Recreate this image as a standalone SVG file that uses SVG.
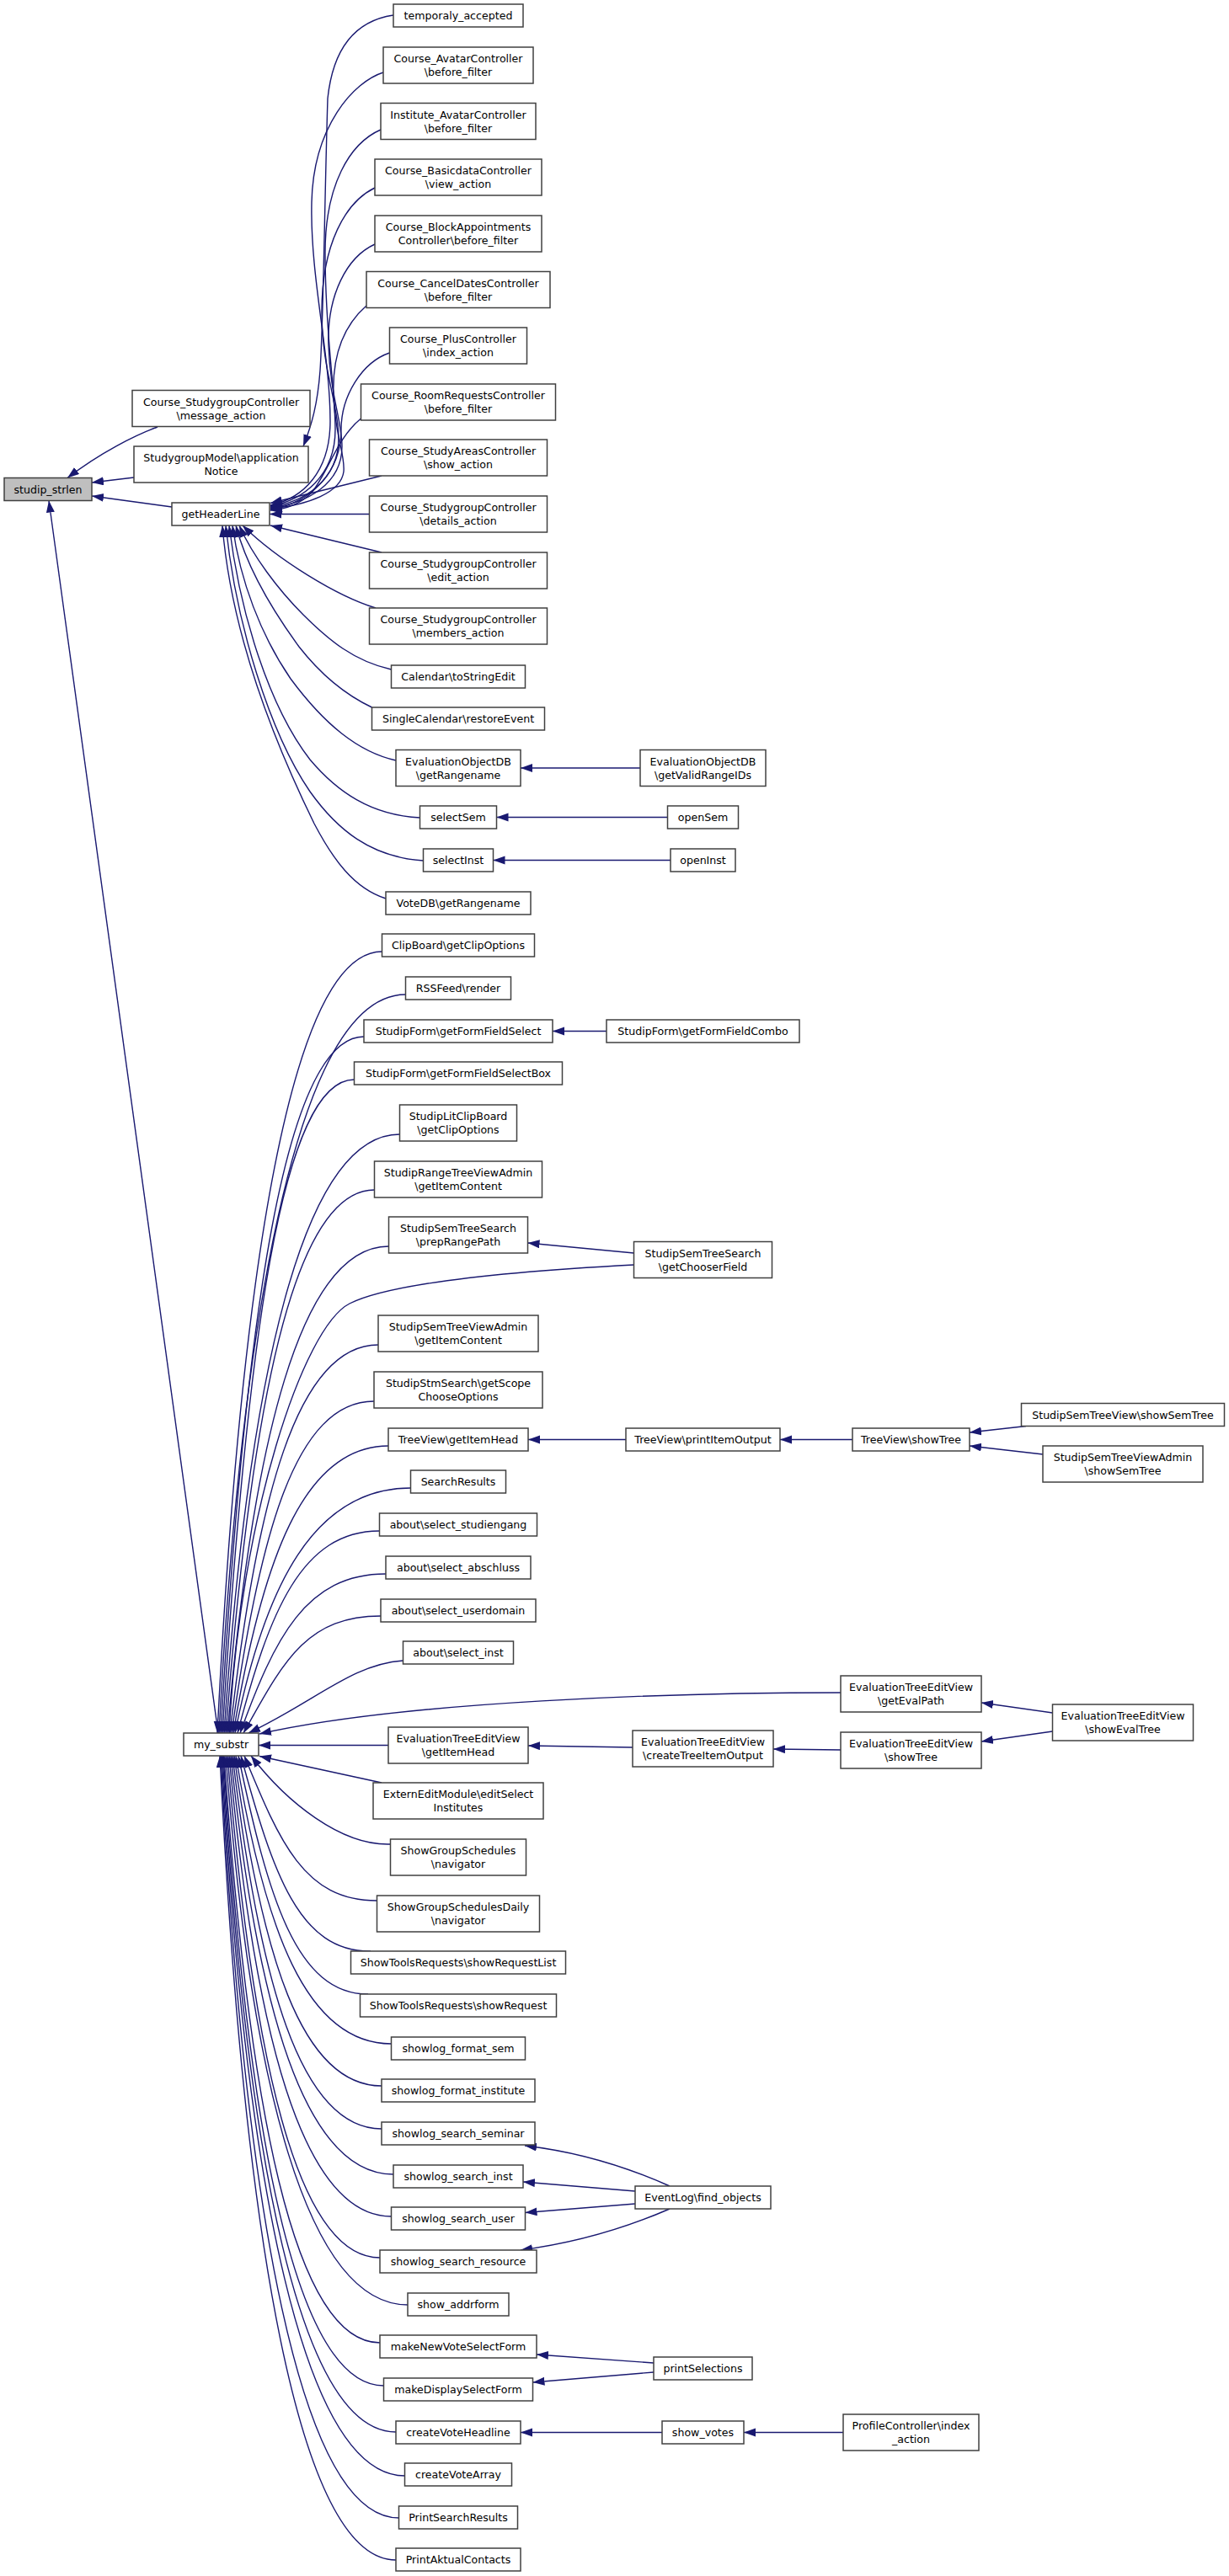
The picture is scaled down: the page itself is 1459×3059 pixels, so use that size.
<svg xmlns="http://www.w3.org/2000/svg" width="1459" height="3059" viewBox="0 0 1459 3059">
<style>
.n rect{fill:#fff;stroke:#404040;stroke-width:1.5}
.root rect{fill:#bfbfbf}
text{font-family:"DejaVu Sans","Liberation Sans",sans-serif;font-size:12.6px;text-anchor:middle;fill:#000}
.e path{fill:none;stroke:#191970;stroke-width:1.4;marker-end:url(#a)}
</style>
<defs>
<marker id="a" markerUnits="userSpaceOnUse" markerWidth="16" markerHeight="12" refX="14" refY="5" orient="auto"><path d="M0,0 L14,5 L0,10 z" fill="#191970"/></marker>
</defs>
<rect width="1459" height="3059" fill="#fff"/>
<g id="edges" class="e">
<path d="M187,507 C160,517 120,537 80,567.5"/>
<path d="M159,567 L109,573"/>
<path d="M204,602 L109,589"/>
<path d="M259,2058 L58,594.5"/>
<path d="M467,18 C420,25 395,60 389,117 C385,250 384,380 380,440 C377,480 370,505 360,530"/>
<path d="M455,86 C420,97 372,150 370,240 C368,330 392,420 392,500 C392,560 360,592 321,600"/>
<path d="M452,154 C415,170 386,220 386,300 C386,400 398,460 398,510 C398,565 360,594 321,601"/>
<path d="M445,223 C410,240 382,290 382,370 C382,440 402,480 402,520 C402,570 362,596 321,602"/>
<path d="M445,290 C412,305 388,350 390,410 C392,470 406,500 406,530 C406,575 364,598 321,603"/>
<path d="M435,363 C410,385 394,420 396,470 C398,520 410,540 408,560 C405,585 365,600 321,604"/>
<path d="M462.5,419 C430,430 405,470 405,510 C405,560 370,597 321,605"/>
<path d="M428.5,497 C400,520 390,560 370,585 C355,600 335,605 321,606"/>
<path d="M453,565 L321,597.5"/>
<path d="M438.5,610.5 L320,610.5"/>
<path d="M453,656 L321,624"/>
<path d="M446,722 C400,708 330,665 288,624"/>
<path d="M464.5,795 C420,785 390,760 360,730 C330,700 300,660 284,624"/>
<path d="M441.5,840 C410,825 380,800 355,768 C320,720 292,670 280,624"/>
<path d="M470,903 C425,893 385,860 345,806 C310,755 285,690 276,624"/>
<path d="M498.5,971 C440,968 400,940 368,902 C320,840 285,730 272,624"/>
<path d="M502.5,1022 C440,1018 400,985 368,940 C320,870 280,740 268,624"/>
<path d="M458,1067 C420,1055 395,1020 373,978 C330,890 275,760 264,624"/>
<path d="M760,912 L618,912"/>
<path d="M792.5,970.5 L589.5,970.5"/>
<path d="M796,1021.5 L585.5,1021.5"/>
<path d="M453.5,1130 C346.5,1130 286,1501 258,2058"/>
<path d="M481.5,1181 C359,1181 288,1532 260,2058"/>
<path d="M432,1231 C338,1231 291,1562 262,2058"/>
<path d="M420.5,1282 C334.5,1282 293,1592 264,2058"/>
<path d="M474.5,1347 C360,1347 295,1631 266,2058"/>
<path d="M444.5,1413 C347.5,1413 298,1671 268,2058"/>
<path d="M461.5,1480 C356.5,1480 300,1711 270,2058"/>
<path d="M752.5,1502 C640,1508 470,1520 415,1548 C360,1576 285,1800 272,2058"/>
<path d="M449,1597 C352,1597 304.5,1781 273,2058"/>
<path d="M444,1664 C350.6,1664 307.6,1822 275,2058"/>
<path d="M461,1717 C360,1717 310.8,1853 277,2058"/>
<path d="M487.5,1767 C372.5,1767 314,1883 279,2058"/>
<path d="M450.5,1818 C357.7,1818 319.5,1914 282,2058"/>
<path d="M458,1869 C363,1869 326,1945 285,2058"/>
<path d="M452,1919 C362.6,1919 335.6,1975 289,2058"/>
<path d="M478.5,1972 C418,1976 375,2020 295,2058"/>
<path d="M998,2010 C800,2010 480,2020 308,2059"/>
<path d="M461,2072.5 L307,2072.5"/>
<path d="M453,2117 L308,2085.5"/>
<path d="M463.5,2190 C405,2192 340,2140 298,2085"/>
<path d="M447.5,2257 C361,2257 332.4,2188 290,2085"/>
<path d="M440,2317 C355,2318 324,2225 286,2085"/>
<path d="M437,2368 C352,2368 318.6,2255 283,2085"/>
<path d="M464.5,2427 C363,2427 313.8,2290 280,2085"/>
<path d="M453,2477 C356.6,2477 310.7,2320 278,2085"/>
<path d="M453,2528 C355.6,2528 307.8,2351 276,2085"/>
<path d="M467,2582 C361,2582 305,2383 274,2085"/>
<path d="M464.5,2632 C358,2632 302.5,2413 272,2085"/>
<path d="M451,2681 C351.7,2681 300,2443 270,2085"/>
<path d="M484,2737 C364.7,2737 297.6,2476 268,2085"/>
<path d="M451,2782 C348.7,2782 295.3,2503 266,2085"/>
<path d="M455.5,2833 C350.5,2833 294,2534 265,2085"/>
<path d="M470,2888 C356.6,2888 292.7,2566 264,2085"/>
<path d="M480.5,2940 C361,2940 291.5,2598 263,2085"/>
<path d="M473.5,2990 C357,2990 290.3,2628 262,2085"/>
<path d="M470,3040 C354.6,3040 289,2658 261,2085"/>
<path d="M720,1224.5 L656,1224.5"/>
<path d="M752.5,1488 L626.5,1476"/>
<path d="M743,1709.5 L627,1709.5"/>
<path d="M1012,1709.5 L926,1709.5"/>
<path d="M1218,1693.5 L1151,1701"/>
<path d="M1238,1727 L1151,1717"/>
<path d="M751,2075 L627,2073"/>
<path d="M998,2078 L918,2077"/>
<path d="M1249.5,2034 L1165,2022"/>
<path d="M1249.5,2056 L1165,2068"/>
<path d="M795,2596 Q710,2558 623,2548"/>
<path d="M754,2602 L621,2591"/>
<path d="M754,2617 L623.5,2627.5"/>
<path d="M795,2623 Q710,2660 618,2672"/>
<path d="M776,2806 L637,2796"/>
<path d="M776,2817 L632.5,2829"/>
<path d="M786,2888.5 L618,2888.5"/>
<path d="M1001,2888.5 L883,2888.5"/>
</g>
<g id="studip_strlen" class="n root"><rect x="5" y="567.5" width="104" height="27"/><text x="57" y="585.5">studip_strlen</text></g>
<g id="message_action" class="n"><rect x="157" y="463.5" width="211" height="43"/><text x="262.5" y="481.5">Course_StudygroupController</text><text x="262.5" y="497.5">\message_action</text></g>
<g id="applicationNotice" class="n"><rect x="159" y="530" width="207" height="43"/><text x="262.5" y="548">StudygroupModel\application</text><text x="262.5" y="564">Notice</text></g>
<g id="getHeaderLine" class="n"><rect x="204" y="597" width="116" height="27"/><text x="262" y="615">getHeaderLine</text></g>
<g id="my_substr" class="n"><rect x="218" y="2058" width="89" height="27"/><text x="262.5" y="2076">my_substr</text></g>
<g id="temporaly_accepted" class="n"><rect x="467" y="5" width="154" height="27"/><text x="544" y="23">temporaly_accepted</text></g>
<g id="avatar_before" class="n"><rect x="455" y="56" width="178" height="43"/><text x="544" y="74">Course_AvatarController</text><text x="544" y="90">\before_filter</text></g>
<g id="inst_avatar_before" class="n"><rect x="452" y="122.5" width="184" height="43"/><text x="544" y="140.5">Institute_AvatarController</text><text x="544" y="156.5">\before_filter</text></g>
<g id="basicdata_view" class="n"><rect x="445" y="189" width="198" height="43"/><text x="544" y="207">Course_BasicdataController</text><text x="544" y="223">\view_action</text></g>
<g id="blockappt_before" class="n"><rect x="445" y="256" width="198" height="43"/><text x="544" y="274">Course_BlockAppointments</text><text x="544" y="290">Controller\before_filter</text></g>
<g id="canceldates_before" class="n"><rect x="435" y="322.5" width="218" height="43"/><text x="544" y="340.5">Course_CancelDatesController</text><text x="544" y="356.5">\before_filter</text></g>
<g id="plus_index" class="n"><rect x="462.5" y="389" width="163" height="43"/><text x="544" y="407">Course_PlusController</text><text x="544" y="423">\index_action</text></g>
<g id="roomrequests_before" class="n"><rect x="428.5" y="456" width="231" height="43"/><text x="544" y="474">Course_RoomRequestsController</text><text x="544" y="490">\before_filter</text></g>
<g id="studyareas_show" class="n"><rect x="438.5" y="522" width="211" height="43"/><text x="544" y="540">Course_StudyAreasController</text><text x="544" y="556">\show_action</text></g>
<g id="studygroup_details" class="n"><rect x="438.5" y="589" width="211" height="43"/><text x="544" y="607">Course_StudygroupController</text><text x="544" y="623">\details_action</text></g>
<g id="studygroup_edit" class="n"><rect x="438.5" y="656" width="211" height="43"/><text x="544" y="674">Course_StudygroupController</text><text x="544" y="690">\edit_action</text></g>
<g id="studygroup_members" class="n"><rect x="438.5" y="722" width="211" height="43"/><text x="544" y="740">Course_StudygroupController</text><text x="544" y="756">\members_action</text></g>
<g id="calendar_tostringedit" class="n"><rect x="464.5" y="790" width="159" height="27"/><text x="544" y="808">Calendar\toStringEdit</text></g>
<g id="singlecalendar_restore" class="n"><rect x="441.5" y="840" width="205" height="27"/><text x="544" y="858">SingleCalendar\restoreEvent</text></g>
<g id="evalobjdb_getrangename" class="n"><rect x="470" y="890.5" width="148" height="43"/><text x="544" y="908.5">EvaluationObjectDB</text><text x="544" y="924.5">\getRangename</text></g>
<g id="selectSem" class="n"><rect x="498.5" y="957" width="91" height="27"/><text x="544" y="975">selectSem</text></g>
<g id="selectInst" class="n"><rect x="502.5" y="1008" width="83" height="27"/><text x="544" y="1026">selectInst</text></g>
<g id="votedb_getrangename" class="n"><rect x="458" y="1059" width="172" height="27"/><text x="544" y="1077">VoteDB\getRangename</text></g>
<g id="getValidRangeIDs" class="n"><rect x="760" y="890.5" width="149" height="43"/><text x="834.5" y="908.5">EvaluationObjectDB</text><text x="834.5" y="924.5">\getValidRangeIDs</text></g>
<g id="openSem" class="n"><rect x="792.5" y="957" width="84" height="27"/><text x="834.5" y="975">openSem</text></g>
<g id="openInst" class="n"><rect x="796" y="1008" width="77" height="27"/><text x="834.5" y="1026">openInst</text></g>
<g id="clipboard_getclipoptions" class="n"><rect x="453.5" y="1109" width="181" height="27"/><text x="544" y="1127">ClipBoard\getClipOptions</text></g>
<g id="rssfeed_render" class="n"><rect x="481.5" y="1160" width="125" height="27"/><text x="544" y="1178">RSSFeed\render</text></g>
<g id="getFormFieldSelect" class="n"><rect x="432" y="1211" width="224" height="27"/><text x="544" y="1229">StudipForm\getFormFieldSelect</text></g>
<g id="getFormFieldCombo" class="n"><rect x="720" y="1211" width="229" height="27"/><text x="834.5" y="1229">StudipForm\getFormFieldCombo</text></g>
<g id="getFormFieldSelectBox" class="n"><rect x="420.5" y="1261" width="247" height="27"/><text x="544" y="1279">StudipForm\getFormFieldSelectBox</text></g>
<g id="litclipboard_getclipoptions" class="n"><rect x="474.5" y="1312" width="139" height="43"/><text x="544" y="1330">StudipLitClipBoard</text><text x="544" y="1346">\getClipOptions</text></g>
<g id="rangetreeviewadmin_getitemcontent" class="n"><rect x="444.5" y="1379" width="199" height="43"/><text x="544" y="1397">StudipRangeTreeViewAdmin</text><text x="544" y="1413">\getItemContent</text></g>
<g id="prepRangePath" class="n"><rect x="461.5" y="1445" width="165" height="43"/><text x="544" y="1463">StudipSemTreeSearch</text><text x="544" y="1479">\prepRangePath</text></g>
<g id="getChooserField" class="n"><rect x="752.5" y="1474.5" width="164" height="43"/><text x="834.5" y="1492.5">StudipSemTreeSearch</text><text x="834.5" y="1508.5">\getChooserField</text></g>
<g id="semtreeviewadmin_getitemcontent" class="n"><rect x="449" y="1562" width="190" height="43"/><text x="544" y="1580">StudipSemTreeViewAdmin</text><text x="544" y="1596">\getItemContent</text></g>
<g id="stmsearch_getscope" class="n"><rect x="444" y="1629" width="200" height="43"/><text x="544" y="1647">StudipStmSearch\getScope</text><text x="544" y="1663">ChooseOptions</text></g>
<g id="treeview_getitemhead" class="n"><rect x="461" y="1696" width="166" height="27"/><text x="544" y="1714">TreeView\getItemHead</text></g>
<g id="treeview_printitemoutput" class="n"><rect x="743" y="1696" width="183" height="27"/><text x="834.5" y="1714">TreeView\printItemOutput</text></g>
<g id="treeview_showtree" class="n"><rect x="1012" y="1696" width="139" height="27"/><text x="1081.5" y="1714">TreeView\showTree</text></g>
<g id="semtreeview_showsemtree" class="n"><rect x="1212.5" y="1666.5" width="241" height="27"/><text x="1333" y="1684.5">StudipSemTreeView\showSemTree</text></g>
<g id="semtreeviewadmin_showsemtree" class="n"><rect x="1238" y="1717" width="190" height="43"/><text x="1333" y="1735">StudipSemTreeViewAdmin</text><text x="1333" y="1751">\showSemTree</text></g>
<g id="searchresults" class="n"><rect x="487.5" y="1746" width="113" height="27"/><text x="544" y="1764">SearchResults</text></g>
<g id="select_studiengang" class="n"><rect x="450.5" y="1797" width="187" height="27"/><text x="544" y="1815">about\select_studiengang</text></g>
<g id="select_abschluss" class="n"><rect x="458" y="1848" width="172" height="27"/><text x="544" y="1866">about\select_abschluss</text></g>
<g id="select_userdomain" class="n"><rect x="452" y="1899" width="184" height="27"/><text x="544" y="1917">about\select_userdomain</text></g>
<g id="select_inst" class="n"><rect x="478.5" y="1949" width="131" height="27"/><text x="544" y="1967">about\select_inst</text></g>
<g id="evaltree_getevalpath" class="n"><rect x="998" y="1990" width="167" height="43"/><text x="1081.5" y="2008">EvaluationTreeEditView</text><text x="1081.5" y="2024">\getEvalPath</text></g>
<g id="evaltree_showevaltree" class="n"><rect x="1249.5" y="2024" width="167" height="43"/><text x="1333" y="2042">EvaluationTreeEditView</text><text x="1333" y="2058">\showEvalTree</text></g>
<g id="evaltree_getitemhead" class="n"><rect x="461" y="2051" width="166" height="43"/><text x="544" y="2069">EvaluationTreeEditView</text><text x="544" y="2085">\getItemHead</text></g>
<g id="evaltree_createtreeitemoutput" class="n"><rect x="751" y="2055" width="167" height="43"/><text x="834.5" y="2073">EvaluationTreeEditView</text><text x="834.5" y="2089">\createTreeItemOutput</text></g>
<g id="evaltree_showtree" class="n"><rect x="998" y="2057" width="167" height="43"/><text x="1081.5" y="2075">EvaluationTreeEditView</text><text x="1081.5" y="2091">\showTree</text></g>
<g id="externeditmodule" class="n"><rect x="443" y="2117" width="202" height="43"/><text x="544" y="2135">ExternEditModule\editSelect</text><text x="544" y="2151">Institutes</text></g>
<g id="showgroupschedules" class="n"><rect x="463.5" y="2184" width="161" height="43"/><text x="544" y="2202">ShowGroupSchedules</text><text x="544" y="2218">\navigator</text></g>
<g id="showgroupschedulesdaily" class="n"><rect x="447.5" y="2251" width="193" height="43"/><text x="544" y="2269">ShowGroupSchedulesDaily</text><text x="544" y="2285">\navigator</text></g>
<g id="showrequestlist" class="n"><rect x="416.5" y="2317" width="255" height="27"/><text x="544" y="2335">ShowToolsRequests\showRequestList</text></g>
<g id="showrequest" class="n"><rect x="427.5" y="2368" width="233" height="27"/><text x="544" y="2386">ShowToolsRequests\showRequest</text></g>
<g id="showlog_format_sem" class="n"><rect x="464.5" y="2419" width="159" height="27"/><text x="544" y="2437">showlog_format_sem</text></g>
<g id="showlog_format_institute" class="n"><rect x="453" y="2469" width="182" height="27"/><text x="544" y="2487">showlog_format_institute</text></g>
<g id="showlog_search_seminar" class="n"><rect x="453" y="2520" width="182" height="27"/><text x="544" y="2538">showlog_search_seminar</text></g>
<g id="showlog_search_inst" class="n"><rect x="467" y="2571" width="154" height="27"/><text x="544" y="2589">showlog_search_inst</text></g>
<g id="eventlog_find_objects" class="n"><rect x="754" y="2596" width="161" height="27"/><text x="834.5" y="2614">EventLog\find_objects</text></g>
<g id="showlog_search_user" class="n"><rect x="464.5" y="2621" width="159" height="27"/><text x="544" y="2639">showlog_search_user</text></g>
<g id="showlog_search_resource" class="n"><rect x="451" y="2672" width="186" height="27"/><text x="544" y="2690">showlog_search_resource</text></g>
<g id="show_addrform" class="n"><rect x="484" y="2723" width="120" height="27"/><text x="544" y="2741">show_addrform</text></g>
<g id="makeNewVoteSelectForm" class="n"><rect x="451" y="2773" width="186" height="27"/><text x="544" y="2791">makeNewVoteSelectForm</text></g>
<g id="printSelections" class="n"><rect x="776" y="2799" width="117" height="27"/><text x="834.5" y="2817">printSelections</text></g>
<g id="makeDisplaySelectForm" class="n"><rect x="455.5" y="2824" width="177" height="27"/><text x="544" y="2842">makeDisplaySelectForm</text></g>
<g id="createVoteHeadline" class="n"><rect x="470" y="2875" width="148" height="27"/><text x="544" y="2893">createVoteHeadline</text></g>
<g id="show_votes" class="n"><rect x="786" y="2875" width="97" height="27"/><text x="834.5" y="2893">show_votes</text></g>
<g id="profilecontroller_index" class="n"><rect x="1001" y="2867" width="161" height="43"/><text x="1081.5" y="2885">ProfileController\index</text><text x="1081.5" y="2901">_action</text></g>
<g id="createVoteArray" class="n"><rect x="480.5" y="2925" width="127" height="27"/><text x="544" y="2943">createVoteArray</text></g>
<g id="PrintSearchResults" class="n"><rect x="473.5" y="2976" width="141" height="27"/><text x="544" y="2994">PrintSearchResults</text></g>
<g id="PrintAktualContacts" class="n"><rect x="470" y="3026" width="148" height="27"/><text x="544" y="3044">PrintAktualContacts</text></g>
</svg>
